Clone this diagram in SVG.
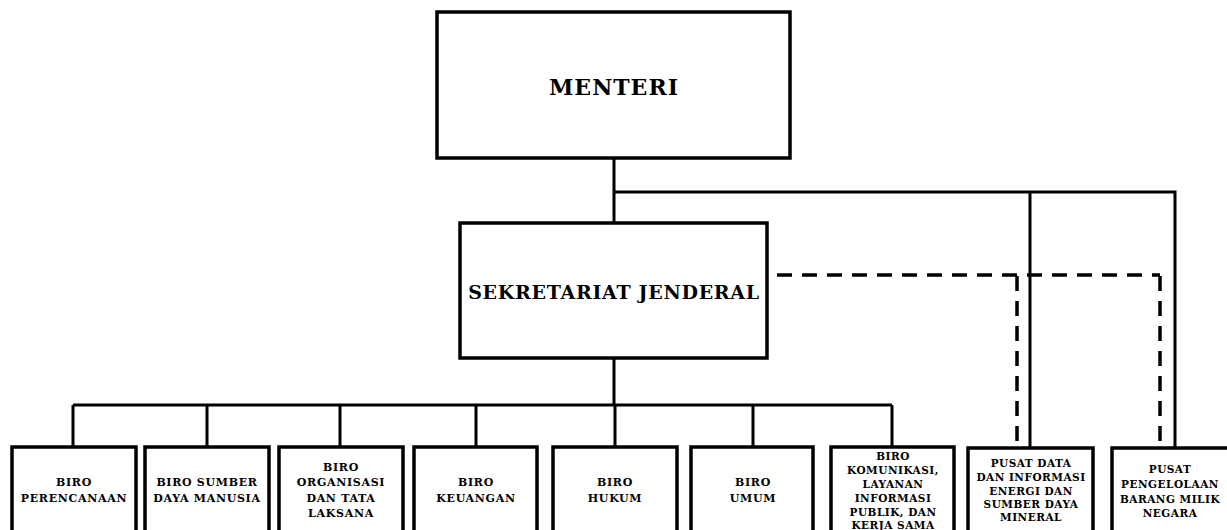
<svg xmlns="http://www.w3.org/2000/svg" width="1227" height="530" viewBox="0 0 1227 530">
<style>
.box{fill:#fff;stroke:#000;stroke-width:3.5}
.ln{fill:none;stroke:#000;stroke-width:3}
.dash{fill:none;stroke:#000;stroke-width:3.5;stroke-dasharray:15 10}
text{font-family:"DejaVu Serif","Liberation Serif",serif;font-weight:bold;fill:#000;text-anchor:middle}
.s{font-size:11px;letter-spacing:0.7px}
.xs{font-size:10.5px;letter-spacing:0.5px}
</style>
<rect width="1227" height="530" fill="#fff"/>
<g id="connectors">
<path class="ln" d="M614 158V223M614 192H1175V447M1030 192V447"/>
<path class="ln" d="M614 358V405M73 405H892M73 405V447M207 405V447M340 405V447M476 405V447M615 405V447M753 405V447M892 405V447"/>
<path class="dash" d="M777 275H1160"/>
<path class="dash" d="M1017 276V447M1160 276V447"/>
</g>
<g id="menteri"><rect class="box" x="437" y="12" width="353" height="146"/><text x="614" y="95" font-size="22" letter-spacing="1">MENTERI</text></g>
<g id="sekjen"><rect class="box" x="460" y="223" width="307" height="135"/><text x="614" y="299" font-size="19" letter-spacing="0.7">SEKRETARIAT JENDERAL</text></g>
<g id="b1"><rect class="box" x="12" y="447" width="124" height="95"/><text class="s" x="74" y="486">BIRO</text><text class="s" x="74" y="502">PERENCANAAN</text></g>
<g id="b2"><rect class="box" x="145" y="447" width="124" height="95"/><text class="s" x="207" y="486">BIRO SUMBER</text><text class="s" x="207" y="502">DAYA MANUSIA</text></g>
<g id="b3"><rect class="box" x="279" y="447" width="124" height="95"/><text class="s" x="341" y="471">BIRO</text><text class="s" x="341" y="486">ORGANISASI</text><text class="s" x="341" y="502">DAN TATA</text><text class="s" x="341" y="517">LAKSANA</text></g>
<g id="b4"><rect class="box" x="414" y="447" width="123" height="95"/><text class="s" x="476" y="486">BIRO</text><text class="s" x="476" y="502">KEUANGAN</text></g>
<g id="b5"><rect class="box" x="553" y="447" width="124" height="95"/><text class="s" x="615" y="486">BIRO</text><text class="s" x="615" y="502">HUKUM</text></g>
<g id="b6"><rect class="box" x="691" y="447" width="122" height="95"/><text class="s" x="753" y="486">BIRO</text><text class="s" x="753" y="502">UMUM</text></g>
<g id="b7"><rect class="box" x="831" y="447" width="123" height="95"/><text class="xs" x="893" y="460">BIRO</text><text class="xs" x="893" y="474">KOMUNIKASI,</text><text class="xs" x="893" y="488">LAYANAN</text><text class="xs" x="893" y="502">INFORMASI</text><text class="xs" x="893" y="516">PUBLIK, DAN</text><text class="xs" x="893" y="529">KERJA SAMA</text></g>
<g id="p1"><rect class="box" x="968" y="448" width="125" height="95"/><text class="xs" x="1031" y="467">PUSAT DATA</text><text class="xs" x="1031" y="481">DAN INFORMASI</text><text class="xs" x="1031" y="495">ENERGI DAN</text><text class="xs" x="1031" y="508">SUMBER DAYA</text><text class="xs" x="1031" y="521">MINERAL</text></g>
<g id="p2"><rect class="box" x="1112" y="448" width="125" height="95"/><text class="xs" x="1170" y="473">PUSAT</text><text class="xs" x="1170" y="488">PENGELOLAAN</text><text class="xs" x="1170" y="503">BARANG MILIK</text><text class="xs" x="1170" y="517">NEGARA</text></g>
</svg>
